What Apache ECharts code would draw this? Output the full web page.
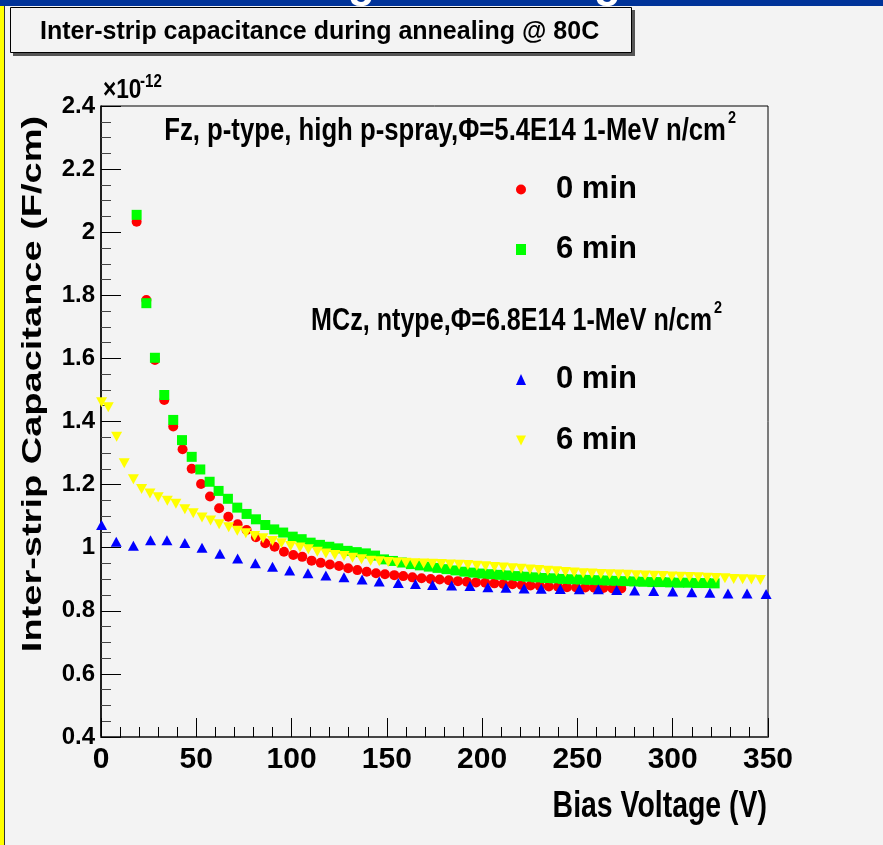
<!DOCTYPE html>
<html>
<head>
<meta charset="utf-8">
<script src="https://cdn.jsdelivr.net/npm/echarts@6/dist/echarts.min.js"></script>
<style>
  html, body { margin: 0; padding: 0; background: #f3f3f3; }
  #chart { width: 883px; height: 845px; }
</style>
</head>
<body>
<div id="chart"></div>
<script>
// Fz, p-type, 0 min (red circles)
const fz0Volt = [18.7, 23.8, 28.3, 33.2, 37.9, 42.8, 47.6, 52.5, 57.2, 62.0, 66.8, 71.7, 76.4, 81.3, 86.2, 91.1, 96.0, 100.9, 105.6, 110.5, 115.3, 120.1, 124.9, 129.7, 134.5, 139.4, 144.3,
    149.0, 153.9, 158.6, 163.4, 168.2, 173.0, 177.7, 182.5, 187.3, 192.0, 196.8, 201.6, 206.4, 211.1, 215.9, 220.7, 225.4, 230.2, 235.0, 239.8, 244.5, 249.3, 254.1, 258.8, 263.6, 268.4, 273.0];
const fz0Cap = [2.033, 1.785, 1.595, 1.468, 1.384, 1.312, 1.250, 1.202, 1.162, 1.125, 1.098, 1.074, 1.056, 1.033, 1.014, 1.003, 0.987, 0.977, 0.971, 0.959, 0.952, 0.947, 0.942, 0.935, 0.929, 0.924, 0.919,
    0.916, 0.913, 0.910, 0.906, 0.903, 0.901, 0.899, 0.897, 0.894, 0.892, 0.890, 0.889, 0.887, 0.885, 0.884, 0.882, 0.880, 0.879, 0.877, 0.876, 0.875, 0.874, 0.874, 0.873, 0.872, 0.871, 0.871];

// Fz, p-type, 6 min (green squares)
const fz6Volt = [18.7, 23.8, 28.3, 33.2, 37.9, 42.5, 47.6, 52.1, 57.0, 61.7, 66.6, 71.5, 76.4, 81.3, 86.2, 90.9, 95.6, 100.6, 105.3, 110.0, 114.9, 119.8, 124.5, 129.4, 134.2, 139.0, 143.8,
    148.5, 153.2, 157.9, 162.6, 167.3, 172.0, 176.6, 181.3, 186.0, 190.7, 195.4, 200.1, 204.8, 209.5, 214.2, 218.9, 223.6, 228.3, 233.0, 237.7,
    242.4, 247.1, 251.8, 256.4, 261.1, 265.8, 270.5, 275.2, 279.9, 284.6, 289.3, 294.0, 298.7, 303.4, 308.1, 312.8, 317.5, 322.0];
const fz6Cap = [2.055, 1.775, 1.602, 1.484, 1.405, 1.341, 1.288, 1.248, 1.209, 1.180, 1.155, 1.127, 1.107, 1.090, 1.072, 1.058, 1.048, 1.035, 1.027, 1.016, 1.009, 1.003, 0.998, 0.990, 0.986, 0.982, 0.975,
    0.963, 0.958, 0.953, 0.948, 0.944, 0.940, 0.936, 0.932, 0.928, 0.924, 0.921, 0.918, 0.916, 0.914, 0.912, 0.910, 0.908, 0.906, 0.904, 0.903,
    0.901, 0.900, 0.899, 0.898, 0.897, 0.896, 0.895, 0.894, 0.893, 0.892, 0.891, 0.891, 0.890, 0.889, 0.889, 0.888, 0.888, 0.887];

// MCz, n-type, 0 min (blue triangles)
const mcz0Volt = [0.3, 8.0, 17.0, 26.0, 34.6, 44.0, 53.0, 62.4, 71.7, 81.0, 90.0, 99.0, 108.6, 118.0, 127.5, 137.0, 146.0, 156.0, 165.0, 174.0,
    184.0, 193.6, 203.0, 212.5, 222.0, 231.0, 241.0, 251.0, 261.0, 270.6, 280.0, 290.0, 300.0, 310.0, 319.5, 329.0, 339.0, 349.0];
const mcz0Cap = [1.072, 1.019, 1.006, 1.024, 1.024, 1.015, 1.000, 0.981, 0.966, 0.951, 0.940, 0.928, 0.919, 0.912, 0.906, 0.899, 0.893, 0.888, 0.885, 0.882,
    0.880, 0.879, 0.875, 0.873, 0.871, 0.870, 0.869, 0.868, 0.868, 0.866, 0.864, 0.863, 0.861, 0.859, 0.857, 0.855, 0.855, 0.853];

// MCz, n-type, 6 min (yellow down triangles)
const mcz6Volt = [0.3, 3.8, 8.2, 12.2, 17.0, 21.3, 25.7, 30.0, 34.8, 39.3, 44.0, 48.4, 53.0, 57.5, 62.0, 67.0, 71.5, 76.0, 80.6, 85.0,
    90.0, 94.7, 99.5, 104.4, 108.8, 113.5, 118.0, 122.7, 127.5, 132.0, 136.7, 141.5, 146.0, 150.7,
    155.3, 160.0, 164.6, 169.3, 173.9, 178.6, 183.2, 187.9, 192.5, 197.2, 201.8, 206.5, 211.1, 215.8, 220.4, 225.1, 229.7, 234.4, 239.0, 243.7,
    248.3, 253.0, 257.6, 262.3, 266.9, 271.6, 276.2, 280.9, 285.5, 290.2, 294.8, 299.5, 304.1, 308.8, 313.4, 318.1, 322.7, 327.4, 332.0, 336.7, 341.3, 346.0];
const mcz6Cap = [1.461, 1.445, 1.352, 1.268, 1.217, 1.186, 1.172, 1.160, 1.149, 1.139, 1.122, 1.109, 1.096, 1.086, 1.074, 1.065, 1.054, 1.046, 1.037, 1.030,
    1.021, 1.014, 1.005, 1.001, 0.995, 0.987, 0.982, 0.977, 0.974, 0.968, 0.963, 0.959, 0.957, 0.955,
    0.953, 0.952, 0.951, 0.950, 0.949, 0.948, 0.947, 0.946, 0.945, 0.943, 0.941, 0.939, 0.937, 0.935, 0.933, 0.931, 0.929, 0.927, 0.925, 0.923,
    0.921, 0.919, 0.918, 0.917, 0.916, 0.915, 0.914, 0.913, 0.912, 0.911, 0.910, 0.909, 0.908, 0.907, 0.906, 0.905, 0.904, 0.903, 0.901, 0.900, 0.899, 0.898];

const zip = (xs, ys) => xs.map((x, i) => [x, ys[i]]);
const SANS = '"Liberation Sans", Arial, sans-serif';
const downTriangle = 'path://M0,0L10,0L5,10Z';

const chart = echarts.init(document.getElementById('chart'));

const legendBase = {
    orient: 'vertical',
    left: 516,
    padding: 0,
    itemWidth: 10,
    itemHeight: 11,
    selectedMode: false,
    formatter: n => n.replace(/^\S+ /, ''),
    textStyle: {
        fontFamily: SANS,
        fontWeight: 'bold',
        fontSize: 31,
        color: '#000',
        padding: [0, 0, 0, 25]
    }
};

chart.setOption({
    animation: false,
    backgroundColor: '#f3f3f3',
    grid: {
        left: 101,
        right: 115,
        top: 106,
        bottom: 108,
        show: true,
        borderColor: '#000',
        borderWidth: 1,
        backgroundColor: 'transparent',
        outerBoundsMode: 'none'
    },
    xAxis: {
        type: 'value',
        min: 0,
        max: 350,
        interval: 50,
        splitLine: {show: false},
        axisLine: {lineStyle: {color: '#444', width: 2}},
        axisTick: {inside: true, length: 19, lineStyle: {color: '#000', width: 1}},
        minorTick: {show: true, splitNumber: 5, length: 10, lineStyle: {color: '#000', width: 1}},
        axisLabel: {
            margin: 8,
            fontFamily: SANS,
            fontWeight: 'bold',
            fontSize: 30,
            color: '#000'
        }
    },
    yAxis: {
        type: 'value',
        min: 0.4,
        max: 2.4,
        interval: 0.2,
        splitLine: {show: false},
        axisLine: {lineStyle: {color: '#000', width: 1.5}},
        axisTick: {inside: true, length: 20, lineStyle: {color: '#000', width: 1}},
        minorTick: {show: true, splitNumber: 4, length: 10, lineStyle: {color: '#444', width: 1}},
        axisLabel: {
            margin: 6,
            fontFamily: SANS,
            fontWeight: 'bold',
            fontSize: 24,
            color: '#000'
        }
    },
    legend: [
        Object.assign({}, legendBase, {top: 174, itemGap: 29, data: ['Fz 0 min', 'Fz 6 min']}),
        Object.assign({}, legendBase, {top: 364, itemGap: 30, data: ['MCz 0 min', {name: 'MCz 6 min', icon: downTriangle}]})
    ],
    series: [
        {
            name: 'Fz 0 min', type: 'scatter', symbol: 'circle', symbolSize: 10,
            itemStyle: {color: '#ff0000', opacity: 1}, data: zip(fz0Volt, fz0Cap), silent: true
        },
        {
            name: 'Fz 6 min', type: 'scatter', symbol: 'rect', symbolSize: 10,
            itemStyle: {color: '#00ff00', opacity: 1}, data: zip(fz6Volt, fz6Cap), silent: true
        },
        {
            name: 'MCz 0 min', type: 'scatter', symbol: 'triangle', symbolSize: [11, 10],
            itemStyle: {color: '#0000ff', opacity: 1}, data: zip(mcz0Volt, mcz0Cap), silent: true
        },
        {
            name: 'MCz 6 min', type: 'scatter', symbol: 'triangle', symbolSize: [11, 10], symbolRotate: 180,
            itemStyle: {color: '#ffff00', opacity: 1}, data: zip(mcz6Volt, mcz6Cap), silent: true
        }
    ],
    graphic: [
        // slide frame
        {type: 'rect', shape: {x: 0, y: 0, width: 883, height: 6}, style: {fill: '#003399'}, z: 10},
        {type: 'text', x: 348, y: 7, z: 11, style: {text: 'g', fill: '#fff', font: 'bold 44px ' + SANS, verticalAlign: 'bottom'}},
        {type: 'text', x: 594, y: 7, z: 11, style: {text: 'g', fill: '#fff', font: 'bold 44px ' + SANS, verticalAlign: 'bottom'}},
        {type: 'rect', shape: {x: 0, y: 7, width: 883, height: 10}, style: {fill: '#f3f3f3'}, z: 10},
        {type: 'rect', shape: {x: 0, y: 6, width: 4, height: 839}, style: {fill: '#ffff00'}, z: 12},
        {type: 'rect', shape: {x: 4, y: 6, width: 1, height: 839}, style: {fill: '#333'}, z: 12},
        // title box
        {type: 'rect', shape: {x: 13, y: 10, width: 622, height: 46}, style: {fill: '#555'}, z: 12},
        {type: 'rect', shape: {x: 10.5, y: 7.5, width: 621, height: 45}, style: {fill: '#f3f3f3', stroke: '#000', lineWidth: 1}, z: 13},
        {type: 'text', x: 40, y: 32, z: 14, style: {text: 'Inter-strip capacitance during annealing @ 80C', fill: '#000',
            font: 'bold 25px ' + SANS, verticalAlign: 'middle'}},
        // exponent
        {type: 'text', x: 103, y: 91, scaleX: 0.84, z: 14, style: {text: '×10', fill: '#000', font: 'bold 27px ' + SANS, verticalAlign: 'middle'}},
        {type: 'text', x: 140, y: 82, scaleX: 0.84, z: 14, style: {text: '-12', fill: '#000', font: 'bold 18px ' + SANS, verticalAlign: 'middle'}},
        // y title
        {type: 'text', x: 33, y: 384, rotation: Math.PI / 2, scaleY: 0.72, z: 14,
            style: {text: 'Inter-strip Capacitance (F/cm)', fill: '#000', font: 'bold 38px ' + SANS, align: 'center', verticalAlign: 'middle'}},
        // x title
        {type: 'text', x: 767, y: 807, scaleX: 0.79, z: 14, style: {text: 'Bias Voltage (V)', fill: '#000', font: 'bold 36px ' + SANS, align: 'right', verticalAlign: 'middle'}},
        // legend headers
        {type: 'text', x: 726, y: 131, scaleX: 0.83, z: 14, style: {text: 'Fz, p-type, high p-spray,Φ=5.4E14 1-MeV n/cm', fill: '#000',
            font: 'bold 31px ' + SANS, align: 'right', verticalAlign: 'middle'}},
        {type: 'text', x: 728, y: 118, scaleX: 0.85, z: 14, style: {text: '2', fill: '#000', font: 'bold 17px ' + SANS, verticalAlign: 'middle'}},
        {type: 'text', x: 712, y: 321, scaleX: 0.81, z: 14, style: {text: 'MCz, ntype,Φ=6.8E14 1-MeV n/cm', fill: '#000',
            font: 'bold 31px ' + SANS, align: 'right', verticalAlign: 'middle'}},
        {type: 'text', x: 714, y: 308, scaleX: 0.85, z: 14, style: {text: '2', fill: '#000', font: 'bold 17px ' + SANS, verticalAlign: 'middle'}}
    ]
});
</script>
</body>
</html>
